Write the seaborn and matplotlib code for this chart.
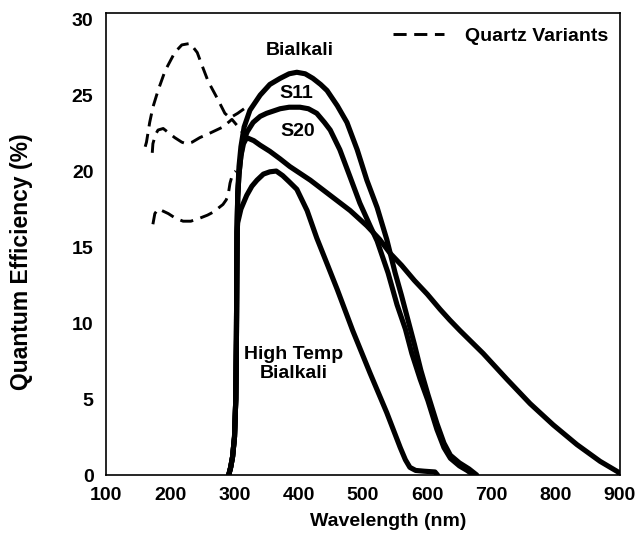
import matplotlib
matplotlib.use("Agg")
import matplotlib.pyplot as plt
import seaborn as sns

# ---------------- data ----------------
bialkali_wl = [291, 294, 297, 300, 302, 303, 303.5, 304, 305, 307, 310, 315, 324, 340, 355, 371, 385, 397,
               410, 422, 434, 444, 460, 475, 491, 506, 522, 537, 550, 560, 570, 580, 590, 601, 615, 626,
               636, 650, 665, 677]
bialkali_qe = [0, 0.5, 1.2, 2.5, 5, 9, 13, 16, 18.5, 20.3, 21.6, 22.9, 24.0, 25.0, 25.7, 26.1, 26.4, 26.5,
               26.4, 26.1, 25.7, 25.3, 24.3, 23.2, 21.4, 19.4, 17.6, 15.5, 13.3, 11.8, 10.2, 8.6, 6.9, 5.3,
               3.4, 2.1, 1.3, 0.8, 0.4, 0]

s11_wl = [291, 294, 297, 300, 302, 303, 303.5, 304, 305, 307, 310, 313, 320, 329, 340, 350, 371, 385, 402,
          415, 428, 440, 449, 464, 480, 495, 511, 522, 539, 553, 566, 576, 589, 601, 615, 626, 636, 650,
          662, 672]
s11_qe = [0, 0.5, 1.2, 2.5, 5, 9, 13, 16, 18.3, 19.8, 21.0, 21.9, 22.6, 23.2, 23.6, 23.8, 24.1, 24.2, 24.2,
          24.1, 23.8, 23.2, 22.7, 21.4, 19.6, 17.9, 16.4, 15.4, 13.3, 11.2, 9.6, 8.0, 6.3, 4.9, 3.0, 1.8,
          1.1, 0.6, 0.3, 0]

s20_wl = [291, 294, 297, 300, 302, 303, 303.5, 304, 305, 307, 310, 314, 319, 330, 340, 355, 371, 386, 418,
          449, 480, 506, 526, 542, 560, 580, 600, 620, 635, 651, 687, 724, 760, 796, 833, 869, 897, 900]
s20_qe = [0, 0.5, 1.2, 2.5, 5, 9, 13, 16, 18.3, 19.8, 21.0, 21.8, 22.2, 22.0, 21.7, 21.3, 20.8, 20.3, 19.4,
          18.4, 17.4, 16.4, 15.5, 14.6, 13.8, 12.8, 11.9, 10.9, 10.2, 9.5, 8.0, 6.3, 4.7, 3.3, 2.0, 0.9,
          0.2, 0]

hightemp_wl = [291, 294, 297, 300, 302, 303, 303.5, 304, 305, 310, 319, 327, 335, 345, 355, 365, 375, 385,
               397, 405, 413, 428, 445, 460, 484, 511, 537, 558, 566, 573, 582, 595, 612, 616]
hightemp_qe = [0, 0.5, 1.2, 2.5, 5, 9, 13, 16, 16.6, 17.5, 18.4, 19.0, 19.4, 19.8, 19.95, 20.0, 19.7, 19.3,
               18.8, 18.1, 17.4, 15.6, 13.8, 12.2, 9.5, 6.7, 4.1, 1.8, 1.0, 0.5, 0.3, 0.25, 0.2, 0]

quartz_upper_wl = [161, 163, 168, 173, 181, 192, 207, 218, 231, 242, 249, 259, 273, 285, 293, 305, 315, 325]
quartz_upper_qe = [21.6, 21.9, 23.2, 24.2, 25.3, 26.6, 27.8, 28.3, 28.4, 27.8, 27.0, 25.9, 24.8, 23.8,
                   23.5, 23.8, 24.1, 24.2]

quartz_mid_wl = [172, 173, 177, 181, 189, 198, 207, 218, 225, 234, 246, 262, 282, 296, 306, 313]
quartz_mid_qe = [21.2, 21.8, 22.4, 22.7, 22.8, 22.5, 22.2, 21.9, 21.8, 21.9, 22.2, 22.5, 22.9, 23.4,
                 22.9, 22.5]

quartz_low_wl = [173, 176, 181, 187, 197, 208, 220, 232, 246, 258, 267, 276, 282, 287, 290, 293, 297, 302]
quartz_low_qe = [16.5, 17.2, 17.5, 17.4, 17.2, 16.9, 16.7, 16.7, 16.9, 17.1, 17.3, 17.6, 17.8, 18.1,
                 18.4, 19.2, 19.8, 20.0]

x_ticks = [100, 200, 300, 400, 500, 600, 700, 800, 900]
y_ticks = [0, 5, 10, 15, 20, 25, 30]

# ---------------- style ----------------
sns.set_theme(style="white")
plt.rcParams["font.family"] = ["Liberation Sans", "DejaVu Sans"]
plt.rcParams["font.weight"] = "bold"
plt.rcParams["text.color"] = "black"
plt.rcParams["axes.labelcolor"] = "black"

W, H = 636, 547
fig = plt.figure(figsize=(W / 100, H / 100), dpi=100)
ax = fig.add_axes([106 / W, 1 - 475 / H, 514 / W, 462 / H])

solid_kw = dict(color="black", linewidth=3.7, sort=False, estimator=None, ax=ax,
                solid_capstyle="round", solid_joinstyle="round")
for wl, qe in [(bialkali_wl, bialkali_qe), (s11_wl, s11_qe), (s20_wl, s20_qe),
               (hightemp_wl, hightemp_qe)]:
    sns.lineplot(x=wl, y=qe, **solid_kw)

dash_kw = dict(color="black", linewidth=2.1, sort=False, estimator=None, ax=ax,
               linestyle=(0, (4.5, 2.6)))
sns.lineplot(x=quartz_upper_wl, y=quartz_upper_qe, label="Quartz Variants", **dash_kw)
sns.lineplot(x=quartz_mid_wl, y=quartz_mid_qe, **dash_kw)
sns.lineplot(x=quartz_low_wl, y=quartz_low_qe, **dash_kw)

handles, labels = ax.get_legend_handles_labels()
leg = ax.legend(handles[:1], labels[:1], loc="upper right", frameon=False,
                fontsize=14, handlelength=2.6, handletextpad=1.1,
                bbox_to_anchor=(1.0, 0.995), borderaxespad=0.2)
for t in leg.get_texts():
    t.set_fontweight("bold")
    t.set_color("black")

ax.set_xlim(100, 900)
ax.set_ylim(0, 30.4)
ax.set_xticks(x_ticks)
ax.set_yticks(y_ticks)
ax.tick_params(axis="both", length=0, labelsize=14, pad=9, colors="black")
for lab in ax.get_xticklabels() + ax.get_yticklabels():
    lab.set_fontweight("bold")

for s in ax.spines.values():
    s.set_visible(True)
    s.set_color("black")
    s.set_linewidth(1.2)

ax.set_xlabel("Wavelength (nm)", fontsize=14, fontweight="bold", color="black")
ax.set_ylabel("Quantum Efficiency (%)", fontsize=16.5, fontweight="bold", color="black")
ax.xaxis.set_label_coords((388 - 106) / 514, (475 - 522) / 462)
ax.yaxis.set_label_coords((22 - 106) / 514, (475 - 262) / 462)
ax.xaxis.label.set_va("center")
ax.yaxis.label.set_va("center")

txt_kw = dict(fontsize=14, fontweight="bold", ha="center", va="center", color="black")
ax.text(402, 27.96, "Bialkali", **txt_kw)
ax.text(396, 25.1, "S11", **txt_kw)
ax.text(399, 22.6, "S20", **txt_kw)
ax.text(392, 7.3, "High Temp\nBialkali", linespacing=1.15, **txt_kw)

fig.savefig("out.png", dpi=100)
